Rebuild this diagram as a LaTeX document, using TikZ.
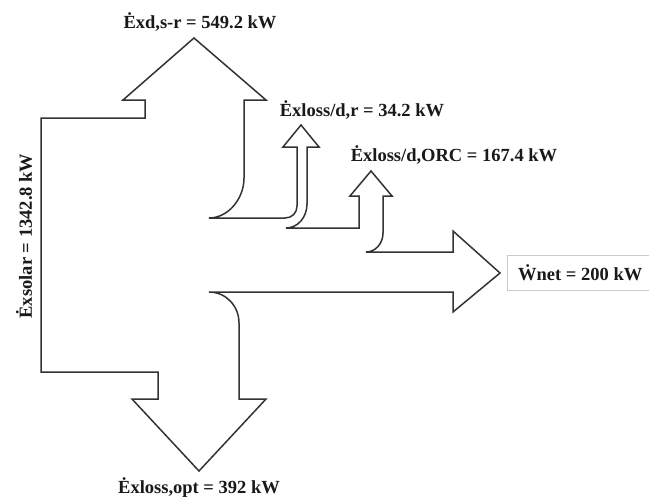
\documentclass[tikz,border=0pt]{standalone}
\usepackage{fontspec}
\setmainfont{Liberation Serif}
\newcommand\dotover[1]{\ooalign{#1\cr\hidewidth\raisebox{0.68em}{.}\hidewidth\cr}}
\newcommand\dotW{\iffontchar\font"1E86 \symbol{"1E86}\else\dotover{W}\fi}
\tikzset{
  flow/.style={draw=black!80, line width=1.5pt, line join=miter, fill=white},
  lbl/.style={font=\fontsize{18.5}{20}\selectfont\bfseries, inner sep=0pt, text=black!90},
}
\begin{document}
\begin{tikzpicture}[x=1pt,y=-1pt]
\useasboundingbox (0,0) rectangle (649,499);
\fill[white] (0,0) rectangle (649,499);
\draw[flow] (41,118) -- (145,118) -- (145,100) -- (123,100) -- (194,38) -- (266,100) -- (244,100)
  -- (244,178) .. controls (244,199) and (228,218) .. (209,218)
  -- (285,218) .. controls (292,218) and (297,213) .. (297,206)
  -- (297,147) -- (283,147) -- (301,125) -- (319,147) -- (307,147)
  -- (307,204) .. controls (307,217) and (298,228) .. (286,228)
  -- (359,228) -- (359,196) -- (350,196) -- (371,171) -- (392,196) -- (383,196)
  -- (383,233) .. controls (383,244) and (375,252) .. (366,252)
  -- (453,252) -- (453,231) -- (500,273) -- (453,312) -- (453,292)
  -- (209,292) .. controls (226,292) and (239,306) .. (239,323)
  -- (239,399) -- (266,399) -- (199,471) -- (132,399) -- (158,399)
  -- (158,372) -- (41,372) -- cycle;
\draw[draw=black!20, line width=0.8pt, fill=white] (507,255) rectangle (655,290);
\node[lbl] (exd) at (200,22) {Ėxd,s-r = 549.2 kW};
\node[lbl] (exr) at (362,110) {Ėxloss/d,r = 34.2 kW};
\node[lbl] (exorc) at (454,155) {Ėxloss/d,ORC = 167.4 kW};
\node[lbl, anchor=west] (wnet) at (518,273) {\dotW net = 200 kW};
\node[lbl, rotate=90] (exsolar) at (24,236) {Ėxsolar = 1342.8 kW};
\node[lbl] (exopt) at (199,488) {Ėxloss,opt = 392 kW};
\end{tikzpicture}
\end{document}
